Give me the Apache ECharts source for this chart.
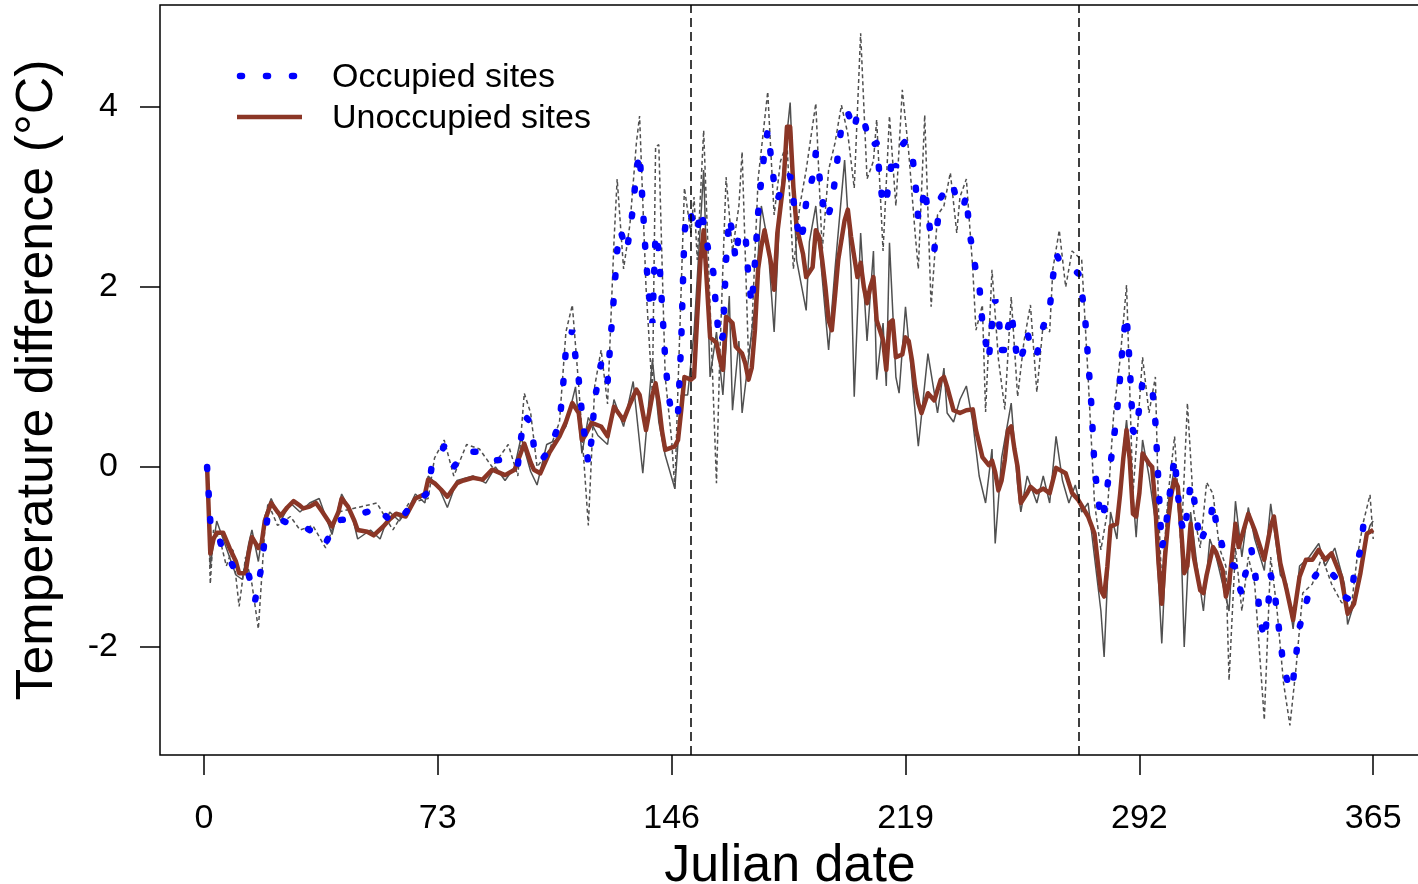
<!DOCTYPE html>
<html>
<head>
<meta charset="utf-8">
<script src="https://cdn.jsdelivr.net/npm/echarts@6/dist/echarts.min.js"></script>
<style>html,body{margin:0;padding:0;background:#fff;}#chart{width:1418px;height:884px;}</style>
</head>
<body>
<div id="chart"></div>
<script>
// ---- data (Julian day, temperature difference °C) ----
const xTicks = [0, 73, 146, 219, 292, 365];
const yTicks = [-2, 0, 2, 4];
const seasonBounds = [152, 273];

const occupied = [[1,0.0],[2,-0.6],[4,-0.67],[6,-0.96],[8,-1.03],[11,-1.23],[14,-1.2],[16,-1.48],[17,-1.3],[18,-1.1],[19,-0.8],[20,-0.52],[23,-0.57],[26,-0.62],[28,-0.64],[31,-0.66],[34,-0.72],[36,-0.8],[38,-0.85],[40,-0.7],[42,-0.59],[45,-0.58],[48,-0.53],[51,-0.5],[54,-0.44],[56,-0.52],[59,-0.62],[62,-0.55],[64,-0.46],[67,-0.38],[70,-0.28],[71,-0.02],[73,0.1],[75,0.23],[77,0.1],[78,0.0],[80,0.1],[82,0.17],[85,0.17],[88,0.1],[90,0.07],[93,0.08],[95,0.11],[98,0.02],[99,0.32],[100,0.57],[102,0.5],[103,0.23],[105,0.06],[107,0.15],[109,0.3],[111,0.49],[112,0.85],[113,1.3],[115,1.52],[116,1.22],[117,0.97],[118,0.6],[119,0.3],[120,0.04],[121,0.3],[122,0.75],[124,1.15],[126,0.93],[127,1.45],[128,1.9],[129,2.4],[130,2.63],[132,2.4],[133,2.63],[134,2.89],[135,3.3],[136,3.49],[137,2.9],[138,2.3],[139,1.9],[140,1.6],[141,2.6],[142,2.4],[143,1.8],[144,1.2],[145,0.8],[146,0.6],[147,0.54],[148,0.6],[149,1.4],[150,2.6],[151,2.85],[152,2.8],[153,2.7],[154,2.6],[155,2.86],[156,2.71],[157,2.5],[158,2.3],[159,2.17],[160,1.7],[161,1.38],[162,1.45],[163,2.3],[164,2.78],[165,2.6],[166,2.3],[167,2.6],[168,2.62],[169,2.6],[170,2.1],[171,1.8],[172,2.27],[173,2.82],[174,3.2],[175,3.5],[176,3.74],[177,3.45],[178,3.15],[179,2.97],[180,3.05],[181,3.2],[183,3.24],[184,2.97],[185,2.74],[186,2.5],[187,2.63],[188,2.94],[190,3.22],[191,3.49],[192,3.27],[193,2.99],[194,2.75],[195,2.8],[196,2.94],[197,3.19],[198,3.49],[199,3.78],[201,3.94],[203,3.74],[204,3.94],[206,3.86],[208,3.56],[210,3.6],[211,3.2],[212,2.9],[213,2.95],[214,3.21],[215,3.47],[216,3.33],[218,3.58],[219,3.62],[221,3.5],[222,3.2],[223,2.75],[224,2.85],[225,3.11],[226,2.82],[227,2.54],[228,2.41],[229,2.71],[230,2.99],[231,3.05],[233,3.16],[234,3.1],[235,2.97],[236,2.9],[237,2.88],[238,3.02],[239,2.6],[240,2.4],[241,2.17],[242,2.04],[243,1.6],[244,1.4],[245,1.19],[246,1.6],[247,1.86],[248,1.7],[249,1.3],[250,1.3],[251,1.55],[252,1.72],[253,1.45],[254,1.15],[255,1.2],[256,1.32],[257,1.5],[258,1.35],[259,1.24],[260,1.25],[261,1.4],[262,1.56],[264,1.75],[265,2.1],[266,2.37],[267,2.3],[269,2.27],[271,2.2],[273,2.15],[274,1.95],[275,1.69],[276,1.2],[277,0.7],[278,0.0],[279,-0.3],[280,-0.59],[281,-0.48],[282,-0.22],[283,0.04],[284,0.3],[285,0.6],[286,1.0],[287,1.45],[288,1.69],[289,1.13],[290,0.4],[291,0.37],[292,0.67],[293,0.95],[294,0.9],[296,0.89],[297,0.5],[298,-0.2],[299,-0.9],[300,-0.74],[301,-0.44],[302,-0.15],[303,0.11],[304,-0.3],[305,-0.6],[306,-0.74],[307,-0.48],[308,-0.18],[309,-0.33],[310,-0.6],[311,-0.85],[312,-0.75],[314,-0.63],[315,-0.39],[316,-0.63],[318,-0.89],[320,-1.07],[322,-1.11],[323,-1.3],[324,-1.42],[325,-1.2],[327,-0.92],[328,-1.14],[329,-1.44],[330,-1.74],[331,-1.92],[332,-1.63],[333,-1.2],[334,-1.33],[335,-1.63],[336,-1.92],[337,-2.22],[339,-2.48],[340,-2.37],[341,-2.07],[342,-1.78],[344,-1.52],[346,-1.26],[348,-1.15],[350,-1.11],[353,-1.22],[356,-1.44],[358,-1.48],[359,-1.2],[361,-0.92],[362,-0.63],[364,-0.52],[365,-0.6]];

const unoccupied = [[1,0.0],[2,-0.96],[3,-0.8],[4,-0.73],[6,-0.73],[8,-0.9],[10,-1.05],[11,-1.18],[13,-1.18],[14,-0.95],[15,-0.78],[17,-0.9],[18,-0.85],[19,-0.6],[21,-0.4],[23,-0.5],[24,-0.54],[26,-0.45],[28,-0.38],[30,-0.43],[31,-0.46],[33,-0.44],[35,-0.4],[37,-0.5],[40,-0.66],[42,-0.5],[43,-0.35],[45,-0.44],[47,-0.6],[48,-0.7],[51,-0.72],[53,-0.76],[56,-0.66],[58,-0.58],[60,-0.52],[63,-0.55],[66,-0.35],[69,-0.3],[70,-0.14],[72,-0.18],[74,-0.25],[76,-0.33],[79,-0.18],[81,-0.15],[84,-0.12],[87,-0.14],[90,-0.03],[92,-0.06],[94,-0.09],[97,-0.03],[100,0.26],[102,0.05],[103,-0.03],[105,-0.07],[108,0.17],[111,0.34],[113,0.5],[115,0.71],[117,0.6],[118,0.3],[119,0.35],[121,0.49],[124,0.45],[126,0.34],[128,0.67],[131,0.52],[133,0.7],[135,0.86],[136,0.8],[138,0.41],[140,0.8],[141,0.93],[142,0.71],[143,0.4],[144,0.19],[147,0.23],[148,0.3],[149,0.63],[150,1.0],[152,0.97],[153,1.0],[154,1.67],[155,2.3],[156,2.63],[157,2.04],[158,1.44],[160,1.38],[161,1.2],[162,1.08],[163,1.67],[165,1.6],[166,1.34],[168,1.26],[169,1.15],[170,0.97],[171,1.1],[172,1.52],[173,2.2],[174,2.45],[175,2.63],[177,2.27],[178,1.97],[179,2.6],[181,3.19],[182,3.78],[183,3.78],[184,3.11],[185,2.67],[187,2.37],[188,2.11],[190,2.22],[191,2.63],[192,2.56],[193,2.3],[194,2.0],[195,1.63],[196,1.52],[197,1.9],[198,2.3],[200,2.74],[201,2.86],[202,2.56],[204,2.11],[205,2.27],[206,2.0],[207,1.82],[208,2.0],[209,2.11],[210,1.63],[212,1.41],[213,1.08],[214,1.6],[215,1.63],[216,1.22],[218,1.25],[219,1.44],[220,1.4],[221,1.19],[222,0.9],[223,0.71],[224,0.6],[226,0.82],[228,0.74],[230,0.97],[231,1.0],[232,0.89],[234,0.63],[236,0.6],[238,0.63],[240,0.64],[241,0.41],[243,0.11],[245,0.02],[246,0.07],[247,-0.06],[248,-0.26],[249,-0.15],[250,0.08],[251,0.41],[252,0.45],[253,0.2],[254,0.0],[255,-0.4],[257,-0.29],[258,-0.22],[260,-0.28],[262,-0.24],[264,-0.29],[266,-0.01],[269,-0.07],[271,-0.29],[273,-0.37],[276,-0.55],[278,-0.74],[280,-1.37],[281,-1.44],[282,-1.11],[283,-0.66],[285,-0.63],[286,-0.3],[287,0.1],[288,0.41],[289,0.08],[290,-0.52],[291,-0.55],[292,-0.29],[293,0.15],[295,0.04],[296,0.0],[297,-0.44],[298,-1.07],[299,-1.52],[300,-1.0],[301,-0.6],[302,-0.3],[303,-0.14],[304,-0.22],[305,-0.66],[306,-1.18],[307,-1.1],[308,-0.63],[309,-1.0],[311,-1.37],[312,-1.4],[313,-1.2],[315,-0.89],[316,-0.95],[318,-1.15],[319,-1.44],[320,-1.3],[322,-0.63],[323,-0.89],[326,-0.52],[328,-0.7],[331,-1.03],[333,-0.66],[334,-0.55],[336,-1.07],[338,-1.37],[340,-1.7],[342,-1.22],[344,-1.03],[346,-1.03],[348,-0.92],[350,-1.03],[352,-0.96],[355,-1.22],[357,-1.63],[359,-1.52],[361,-1.18],[363,-0.74],[365,-0.7]];

const occupiedDaily = [[1,0.0],[2,-1.3],[3,-0.7],[5,-0.8],[7,-1.1],[9,-0.9],[11,-1.55],[13,-1.0],[15,-1.3],[17,-1.8],[19,-0.7],[20,-0.4],[23,-0.65],[27,-0.55],[30,-0.7],[34,-0.65],[38,-0.9],[42,-0.5],[48,-0.45],[54,-0.4],[59,-0.7],[64,-0.4],[70,-0.35],[72,0.1],[75,0.3],[78,-0.1],[82,0.25],[86,0.2],[90,0.0],[95,0.25],[98,-0.1],[100,0.82],[102,0.6],[104,0.0],[108,0.2],[111,0.5],[113,1.5],[115,1.8],[117,0.9],[120,-0.65],[122,0.9],[124,1.3],[126,0.7],[128,2.5],[129,3.2],[131,2.2],[133,2.7],[135,3.6],[136,3.9],[138,2.0],[140,0.8],[141,3.56],[142,3.58],[144,1.0],[146,0.3],[147,-0.25],[148,0.9],[150,3.1],[152,2.6],[153,3.0],[154,2.3],[156,3.74],[158,1.8],[160,-0.18],[161,1.2],[163,3.22],[165,2.4],[167,2.9],[168,3.5],[170,1.2],[171,1.5],[173,3.2],[176,4.17],[178,2.8],[180,3.4],[182,3.6],[184,2.2],[186,2.9],[188,3.3],[191,4.04],[193,2.4],[195,3.3],[197,3.6],[199,4.02],[201,3.7],[203,3.1],[205,4.82],[207,3.2],[209,3.4],[210,3.86],[212,2.4],[214,3.9],[216,2.9],[218,4.19],[220,3.5],[222,2.6],[223,2.2],[225,3.91],[227,1.78],[229,2.8],[231,2.9],[233,3.27],[235,2.6],[236,3.0],[238,3.2],[240,2.2],[241,1.52],[243,1.8],[244,0.61],[246,2.19],[248,1.2],[250,0.64],[252,1.89],[254,0.78],[256,1.4],[258,1.8],[260,0.83],[262,1.6],[264,1.5],[265,2.2],[267,2.63],[269,2.0],[271,2.4],[274,2.3],[276,1.0],[278,-0.4],[280,-0.92],[282,-0.5],[284,0.6],[286,1.2],[288,2.02],[290,-0.3],[291,0.2],[293,1.22],[295,0.6],[297,1.0],[298,-0.5],[299,-1.3],[301,-0.3],[303,0.34],[305,-0.9],[307,0.71],[309,-0.5],[311,-0.9],[313,-0.17],[315,-0.3],[317,-0.9],[319,-1.1],[320,-2.37],[322,-0.9],[324,-1.6],[326,-1.0],[328,-1.3],[331,-2.81],[333,-1.0],[335,-1.6],[337,-2.4],[339,-2.87],[341,-2.2],[343,-1.4],[346,-1.3],[349,-1.0],[352,-1.3],[355,-1.5],[358,-1.6],[360,-1.0],[362,-0.6],[364,-0.31],[365,-0.8]];

const unoccupiedDaily = [[1,0.0],[2,-1.1],[4,-0.6],[6,-0.8],[8,-1.0],[10,-1.2],[12,-1.25],[14,-0.85],[15,-0.7],[17,-1.05],[19,-0.55],[21,-0.35],[24,-0.6],[27,-0.4],[30,-0.5],[33,-0.4],[36,-0.35],[40,-0.75],[43,-0.3],[46,-0.5],[48,-0.8],[52,-0.7],[55,-0.8],[58,-0.5],[61,-0.6],[64,-0.45],[66,-0.3],[69,-0.4],[70,-0.1],[73,-0.2],[76,-0.45],[79,-0.15],[84,-0.1],[88,-0.18],[91,0.0],[94,-0.15],[97,0.0],[99,0.33],[102,-0.05],[104,-0.2],[107,0.25],[110,0.3],[113,0.45],[116,0.89],[118,0.15],[120,0.55],[123,0.35],[126,0.25],[128,0.75],[131,0.45],[134,0.95],[137,-0.07],[140,1.19],[142,0.5],[144,0.13],[147,-0.24],[149,0.8],[151,0.8],[153,1.5],[156,3.3],[158,1.0],[160,1.5],[162,0.8],[164,1.9],[165,0.63],[167,1.4],[168,0.6],[170,1.2],[172,1.8],[174,2.9],[176,2.5],[178,1.5],[180,3.0],[183,4.05],[185,2.3],[188,1.74],[189,2.5],[191,2.9],[193,2.1],[195,1.3],[197,2.2],[200,3.41],[202,2.2],[203,0.78],[205,2.6],[207,1.4],[209,2.4],[210,0.97],[212,1.6],[213,0.9],[214,2.49],[216,1.0],[217,0.82],[219,1.78],[221,1.0],[223,0.23],[226,1.26],[229,0.6],[231,1.1],[232,0.6],[234,0.5],[236,0.75],[238,0.9],[240,0.5],[242,-0.1],[244,-0.4],[246,0.2],[247,-0.85],[249,0.1],[252,0.71],[254,-0.2],[255,-0.5],[257,-0.1],[260,-0.4],[262,-0.1],[264,-0.4],[266,0.34],[268,-0.15],[270,-0.4],[272,-0.2],[274,-0.5],[276,-0.4],[278,-1.0],[280,-1.6],[281,-2.11],[283,-0.5],[285,-0.8],[287,0.2],[288,0.52],[290,-0.3],[291,-0.78],[293,0.3],[295,-0.1],[297,-0.6],[299,-1.96],[301,-0.4],[303,0.0],[305,-0.8],[306,-2.0],[308,-0.5],[310,-1.1],[312,-1.6],[314,-0.8],[316,-1.0],[318,-1.3],[320,-1.6],[322,-0.38],[324,-1.0],[326,-0.45],[328,-0.8],[331,-1.15],[333,-0.41],[336,-1.2],[338,-1.3],[340,-1.8],[342,-1.1],[345,-1.0],[348,-0.85],[350,-1.1],[353,-0.9],[356,-1.3],[357,-1.75],[360,-1.4],[362,-0.9],[364,-0.65],[365,-0.6]];

const seriesNames = ['Occupied sites', 'Unoccupied sites'];

// ---- chart ----
const FONT = '"Liberation Sans", Arial, sans-serif';
const BLUE = '#0000FF';
const BROWN = '#8B3626';
const GRAY = '#505050';

const chart = echarts.init(document.getElementById('chart'), null, {renderer: 'canvas'});
chart.setOption({
  animation: false,
  backgroundColor: '#ffffff',
  grid: {left: 160, top: 5, width: 1260, height: 750, show: true, borderColor: '#000', borderWidth: 1.5, backgroundColor: 'transparent', containLabel: false, outerBoundsMode: 'none'},
  xAxis: {
    type: 'value', min: -13.7, max: 379.6,
    axisLine: {show: false, onZero: false},
    splitLine: {show: false},
    axisTick: {show: true, customValues: xTicks, length: 20, lineStyle: {color: '#000', width: 1.5}},
    axisLabel: {customValues: xTicks, margin: 47, fontSize: 34, color: '#000', fontFamily: FONT},
    name: 'Julian date', nameLocation: 'middle', nameGap: 74,
    nameTextStyle: {fontSize: 52, color: '#000', fontFamily: FONT}
  },
  yAxis: {
    type: 'value', min: -3.2, max: 5.133,
    axisLine: {show: false, onZero: false},
    splitLine: {show: false},
    axisTick: {show: true, customValues: yTicks, length: 20, lineStyle: {color: '#000', width: 1.5}},
    axisLabel: {customValues: yTicks, margin: 42, fontSize: 34, color: '#000', fontFamily: FONT},
    name: 'Temperature difference (°C)', nameLocation: 'middle', nameGap: 96, nameRotate: 90,
    nameTextStyle: {fontSize: 52, color: '#000', fontFamily: FONT}
  },
  series: [
    {
      type: 'line', name: 'occDaily', data: occupiedDaily, showSymbol: false, silent: true,
      lineStyle: {color: GRAY, width: 1.5, type: [4, 3]},
      markLine: {
        silent: true, symbol: 'none', label: {show: false},
        lineStyle: {color: '#000', width: 1.5, type: [9, 5]},
        data: seasonBounds.map(d => ({xAxis: d}))
      }
    },
    {
      type: 'line', name: 'unoccDaily', data: unoccupiedDaily, showSymbol: false, silent: true,
      lineStyle: {color: GRAY, width: 1.5, type: 'solid'}
    },
    {
      type: 'line', name: seriesNames[1], data: unoccupied, showSymbol: false, silent: true,
      lineStyle: {color: BROWN, width: 4.5, type: 'solid', join: 'round'}
    },
    {
      type: 'line', name: seriesNames[0], data: occupied, showSymbol: false, silent: true,
      lineStyle: {color: BLUE, width: 6.5, type: [2, 24], cap: 'round'}
    }
  ],
  graphic: [
    {type: 'line', shape: {x1: 240, y1: 76, x2: 300, y2: 76}, style: {stroke: BLUE, lineWidth: 6.5, lineDash: [2, 24], lineCap: 'round'}},
    {type: 'text', left: 332, top: 61, style: {text: seriesNames[0], fontSize: 34, fill: '#000', fontFamily: FONT}},
    {type: 'line', shape: {x1: 237, y1: 117, x2: 302, y2: 117}, style: {stroke: BROWN, lineWidth: 4.5}},
    {type: 'text', left: 332, top: 102, style: {text: seriesNames[1], fontSize: 34, fill: '#000', fontFamily: FONT}}
  ]
});
</script>
</body>
</html>
